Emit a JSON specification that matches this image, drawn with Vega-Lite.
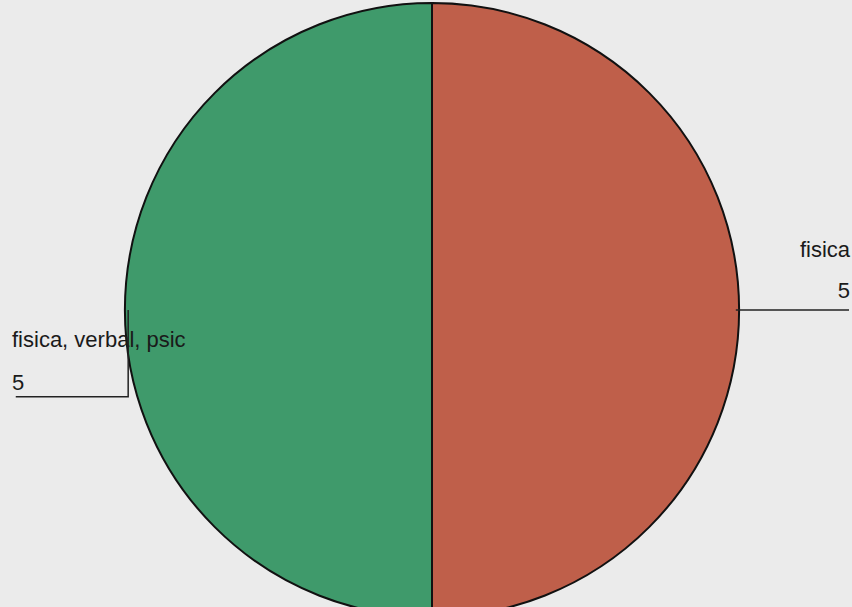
{
  "$schema": "https://vega.github.io/schema/vega-lite/v6.json",
  "autosize": {"type": "fit", "contains": "padding"},
  "width": 852,
  "height": 607,
  "padding": {"left": 12, "top": 13, "right": 0, "bottom": 0},
  "background": "#ebebeb",
  "config": {"view": {"stroke": null}},
  "datasets": {
    "slices": [
      {"tipo": "fisica", "cantidad": 5},
      {"tipo": "fisica, verbal, psic", "cantidad": 5}
    ],
    "guias": [
      {"guia": "d", "paso": 1, "gx": 1.0, "gy": 0},
      {"guia": "d", "paso": 2, "gx": 1.3725, "gy": 0},
      {"guia": "i", "paso": 1, "gx": -1.37, "gy": -0.291},
      {"guia": "i", "paso": 2, "gx": -1.0, "gy": -0.291},
      {"guia": "i", "paso": 3, "gx": -1.0, "gy": 0}
    ]
  },
  "layer": [
    {
      "data": {"name": "slices"},
      "mark": {"type": "arc", "outerRadius": 307, "stroke": "#111111", "strokeWidth": 2},
      "encoding": {
        "theta": {"field": "cantidad", "type": "quantitative", "stack": true},
        "color": {
          "field": "tipo",
          "type": "nominal",
          "scale": {"domain": ["fisica", "fisica, verbal, psic"], "range": ["#bf5f4a", "#3f9a6b"]},
          "legend": null
        }
      }
    },
    {
      "data": {"name": "slices"},
      "mark": {"type": "text", "radius": 306, "align": "right", "baseline": "alphabetic", "dx": 112, "dy": -53, "font": "Liberation Sans", "fontSize": 22, "color": "#1a1a1a"},
      "encoding": {
        "theta": {"field": "cantidad", "type": "quantitative", "stack": true},
        "text": {"condition": {"test": "datum.tipo === 'fisica'", "field": "tipo"}, "value": ""}
      }
    },
    {
      "data": {"name": "slices"},
      "mark": {"type": "text", "radius": 306, "align": "right", "baseline": "alphabetic", "dx": 112, "dy": -12, "font": "Liberation Sans", "fontSize": 22, "color": "#1a1a1a"},
      "encoding": {
        "theta": {"field": "cantidad", "type": "quantitative", "stack": true},
        "text": {"condition": {"test": "datum.tipo === 'fisica'", "field": "cantidad"}, "value": ""}
      }
    },
    {
      "data": {"name": "slices"},
      "mark": {"type": "text", "radius": 306, "align": "left", "baseline": "alphabetic", "dx": -114, "dy": 37, "font": "Liberation Sans", "fontSize": 22, "color": "#1a1a1a"},
      "encoding": {
        "theta": {"field": "cantidad", "type": "quantitative", "stack": true},
        "text": {"condition": {"test": "datum.tipo !== 'fisica'", "field": "tipo"}, "value": ""}
      }
    },
    {
      "data": {"name": "slices"},
      "mark": {"type": "text", "radius": 306, "align": "left", "baseline": "alphabetic", "dx": -114, "dy": 80, "font": "Liberation Sans", "fontSize": 22, "color": "#1a1a1a"},
      "encoding": {
        "theta": {"field": "cantidad", "type": "quantitative", "stack": true},
        "text": {"condition": {"test": "datum.tipo !== 'fisica'", "field": "cantidad"}, "value": ""}
      }
    },
    {
      "data": {"name": "guias"},
      "mark": {"type": "line", "stroke": "#222222", "strokeWidth": 1.5},
      "encoding": {
        "x": {"field": "gx", "type": "quantitative", "scale": {"domain": [-1.3725, 1.3725]}, "axis": null},
        "y": {"field": "gy", "type": "quantitative", "scale": {"domain": [-0.9706, 0.9706]}, "axis": null},
        "detail": {"field": "guia", "type": "nominal"},
        "order": {"field": "paso", "type": "quantitative"}
      }
    }
  ]
}
